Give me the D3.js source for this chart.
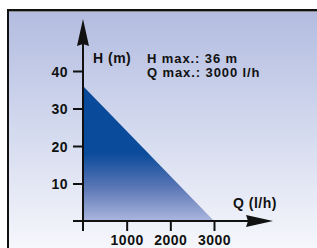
<!DOCTYPE html>
<html>
<head>
<meta charset="utf-8">
<script src="https://cdn.jsdelivr.net/npm/d3@7"></script>
<style>
  body { margin: 0; background: #ffffff; }
  text { font-family: "Liberation Sans", Arial, sans-serif; font-weight: bold; font-size: 14px; letter-spacing: 0.5px; fill: #111; }
  text.info { font-size: 13px; letter-spacing: 0.9px; }
</style>
</head>
<body>
<div id="chart"></div>
<script>
// pump curve: H falls linearly from H max at Q=0 to 0 at Q max
var qValues = [0, 3000];
var hValues = [36, 0];
var xTicks = [1000, 2000, 3000];
var yTicks = [10, 20, 30, 40];
var infoLines = ["H max.: 36 m", "Q max.: 3000 l/h"];

var W = 317, H = 248;
var svg = d3.select("#chart").append("svg")
    .attr("width", W)
    .attr("height", H);

var defs = svg.append("defs");

var bg = defs.append("linearGradient").attr("id", "bg")
    .attr("x1", 0).attr("y1", 0).attr("x2", 0).attr("y2", 1);
bg.append("stop").attr("offset", "0").attr("stop-color", "#b3bce0");
bg.append("stop").attr("offset", "0.5").attr("stop-color", "#d3d9ee");
bg.append("stop").attr("offset", "1").attr("stop-color", "#f6f7fc");

var fillGrad = defs.append("linearGradient").attr("id", "area")
    .attr("x1", 0).attr("y1", 0).attr("x2", 0).attr("y2", 1);
fillGrad.append("stop").attr("offset", "0").attr("stop-color", "#0a4a9a");
fillGrad.append("stop").attr("offset", "0.5").attr("stop-color", "#0b4b9b");
fillGrad.append("stop").attr("offset", "0.75").attr("stop-color", "#5a76b5");
fillGrad.append("stop").attr("offset", "1").attr("stop-color", "#abb6de");

// frame
svg.append("rect")
    .attr("x", 8).attr("y", 10)
    .attr("width", W - 8).attr("height", H - 10)
    .attr("fill", "url(#bg)");
svg.append("line").attr("x1", 7).attr("x2", W).attr("y1", 10).attr("y2", 10)
    .attr("stroke", "#111").attr("stroke-width", 2);
svg.append("line").attr("x1", 7).attr("x2", W).attr("y1", 11.5).attr("y2", 11.5)
    .attr("stroke", "#888").attr("stroke-width", 1);
svg.append("line").attr("x1", 8).attr("x2", 8).attr("y1", 9).attr("y2", H)
    .attr("stroke", "#111").attr("stroke-width", 2);

var x = d3.scaleLinear().domain([0, 3000]).range([83, 214]);
var y = d3.scaleLinear().domain([0, 40]).range([221, 71]);

// filled area under curve
var pts = qValues.map(function(q, i) { return [q, hValues[i]]; });
var area = d3.area()
    .x(function(d) { return x(d[0]); })
    .y0(y(0))
    .y1(function(d) { return y(d[1]); });
svg.append("path")
    .datum(pts)
    .attr("d", area)
    .attr("fill", "url(#area)");

// axes lines + arrows
svg.append("line")
    .attr("x1", 73).attr("x2", 250)
    .attr("y1", y(0)).attr("y2", y(0))
    .attr("stroke", "#111").attr("stroke-width", 2);
svg.append("line")
    .attr("x1", x(0)).attr("x2", x(0))
    .attr("y1", 231).attr("y2", 40)
    .attr("stroke", "#111").attr("stroke-width", 2);
svg.append("path")
    .attr("d", "M273," + y(0) + "L246," + (y(0) - 6) + "L248," + y(0) + "L246," + (y(0) + 6) + "Z")
    .attr("fill", "#111");
svg.append("path")
    .attr("d", "M" + x(0) + ",19L" + (x(0) - 6) + ",46L" + x(0) + ",44L" + (x(0) + 6) + ",46Z")
    .attr("fill", "#111");

// ticks
var xAxis = svg.append("g")
    .attr("transform", "translate(0," + y(0) + ")")
    .call(d3.axisBottom(x).tickValues(xTicks).tickSize(10).tickPadding(3).tickFormat(d3.format("d")));
var yAxis = svg.append("g")
    .attr("transform", "translate(" + x(0) + ",0)")
    .call(d3.axisLeft(y).tickValues(yTicks).tickSize(10).tickPadding(5).tickFormat(d3.format("d")));
[xAxis, yAxis].forEach(function(g) {
    g.select(".domain").remove();
    g.selectAll(".tick line").attr("stroke", "#111").attr("stroke-width", 2);
    g.selectAll(".tick text")
        .style("font-family", "'Liberation Sans', Arial, sans-serif")
        .style("font-weight", "bold")
        .style("font-size", "14px")
        .attr("fill", "#111");
});
yAxis.selectAll(".tick text").attr("dy", "0.36em");
xAxis.selectAll(".tick text").attr("dy", "0.78em");

// labels
svg.append("text").attr("x", 93).attr("y", 63).text("H (m)");
svg.append("text").attr("x", 233).attr("y", 208).text("Q (l/h)");
svg.selectAll(".info")
    .data(infoLines)
    .enter()
    .append("text")
    .attr("class", "info")
    .attr("x", 147)
    .attr("y", function(d, i) { return 62.5 + i * 14.5; })
    .text(function(d) { return d; });
</script>
</body>
</html>
